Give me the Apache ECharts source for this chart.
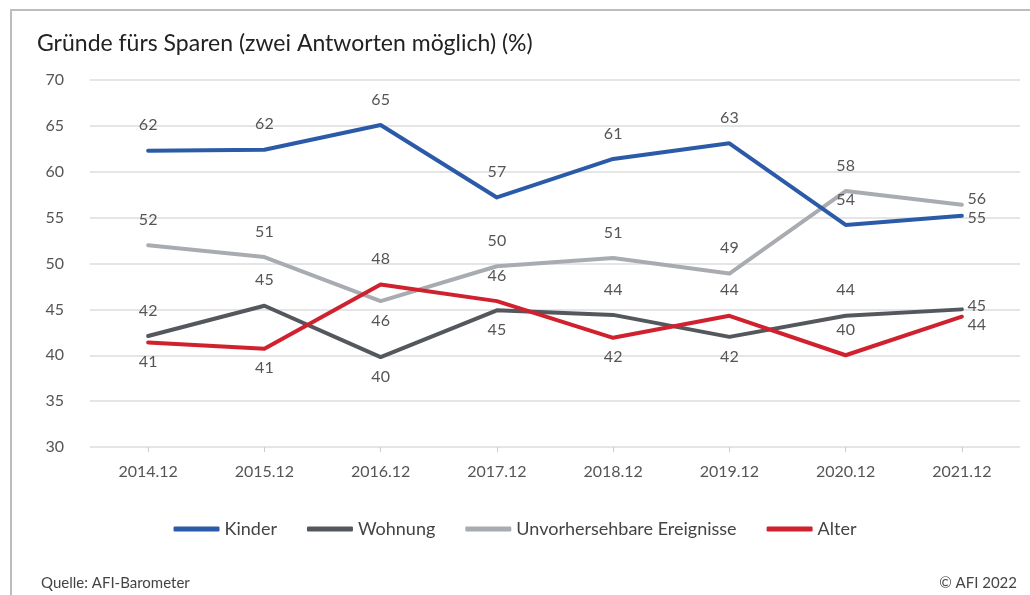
<!DOCTYPE html>
<html>
<head>
<meta charset="utf-8">
<script src="https://cdn.jsdelivr.net/npm/echarts@6/dist/echarts.min.js"></script>
<style>
html,body{margin:0;padding:0;background:#fff;}
#chart{width:1030px;height:595px;}
</style>
</head>
<body>
<div id="chart"></div>
<script>
const categories = ['2014.12','2015.12','2016.12','2017.12','2018.12','2019.12','2020.12','2021.12'];
const kinder = [62.3, 62.4, 65.1, 57.2, 61.4, 63.1, 54.2, 55.2];
const wohnung = [42.1, 45.4, 39.8, 44.9, 44.4, 42.0, 44.3, 45.0];
const unvorhersehbar = [52.0, 50.7, 45.9, 49.7, 50.6, 48.9, 57.9, 56.4];
const alter = [41.4, 40.7, 47.7, 45.9, 41.9, 44.3, 40.0, 44.2];
const yTicks = [30, 35, 40, 45, 50, 55, 60, 65, 70];

const FONT = 'Lato';
const chart = echarts.init(document.getElementById('chart'));

function buildData(values, positions, rightOffset) {
  return values.map((v, i) => {
    const p = positions[i];
    const lbl = { position: p };
    if (p === 'top') lbl.distance = 17;
    if (p === 'bottom') lbl.distance = 11;
    if (p === 'right') { lbl.distance = 5; lbl.offset = rightOffset; }
    return { value: v, label: lbl };
  });
}

function mkSeries(name, values, color, positions, rightOffset, z) {
  return {
    name: name,
    type: 'line',
    data: buildData(values, positions, rightOffset),
    symbol: 'circle',
    symbolSize: 1,
    showSymbol: true,
    z: z,
    lineStyle: { color: color, width: 4, cap: 'round', join: 'round' },
    itemStyle: { color: color },
    emphasis: { disabled: true },
    label: {
      show: true,
      color: '#555',
      fontSize: 16,
      fontFamily: FONT,
      formatter: p => Math.round(p.value)
    }
  };
}

const option = {
  backgroundColor: '#fff',
  animation: false,
  title: [
    { text: 'Gründe fürs Sparen (zwei Antworten möglich) (%)', left: 32, top: 27,
      textStyle: { fontFamily: FONT, fontSize: 23, fontWeight: 'normal', color: '#222' } },
    { text: 'Quelle: AFI-Barometer', left: 36, top: 571,
      textStyle: { fontFamily: FONT, fontSize: 15, fontWeight: 'normal', color: '#444' } },
    { text: '© AFI 2022', right: 8, top: 571,
      textStyle: { fontFamily: FONT, fontSize: 15, fontWeight: 'normal', color: '#444' } }
  ],
  graphic: [
    { type: 'rect', shape: { x: 11, y: 10, width: 1040, height: 620 },
      style: { fill: 'none', stroke: '#bdbdbd', lineWidth: 2 }, silent: true }
  ],
  legend: {
    bottom: 52,
    left: 'center',
    itemWidth: 46,
    itemHeight: 5,
    itemGap: 30,
    icon: 'roundRect',
    textStyle: { fontFamily: FONT, fontSize: 18, color: '#444' },
    data: ['Kinder', 'Wohnung', 'Unvorhersehbare Ereignisse', 'Alter']
  },
  grid: { left: 90, right: 10, top: 80, bottom: 148, containLabel: false },
  xAxis: {
    type: 'category',
    data: categories,
    boundaryGap: true,
    axisLine: { show: false },
    axisTick: { show: true, alignWithLabel: true, length: 5, lineStyle: { color: '#ccc' } },
    axisLabel: { fontFamily: FONT, fontSize: 16, color: '#555', margin: 17 }
  },
  yAxis: {
    type: 'value',
    min: 30,
    max: 70,
    interval: 5,
    axisLine: { show: false },
    axisTick: { show: false },
    axisLabel: { fontFamily: FONT, fontSize: 16, color: '#555', margin: 26,
      formatter: v => yTicks.includes(v) ? String(v) : '' },
    splitLine: { lineStyle: { color: '#dcdcdc', width: 1.5 } }
  },
  series: [
    mkSeries('Wohnung', wohnung, '#54585d',
      ['top','top','bottom','bottom','top','bottom','top','right'], [0,-4], 2),
    mkSeries('Unvorhersehbare Ereignisse', unvorhersehbar, '#a8acb1',
      ['top','top','bottom','top','top','top','top','right'], [0,-6], 3),
    mkSeries('Alter', alter, '#d0212e',
      ['bottom','bottom','top','top','bottom','top','top','right'], [0,8], 4),
    mkSeries('Kinder', kinder, '#2b5ba8',
      ['top','top','top','top','top','top','top','right'], [0,2], 5)
  ]
};
chart.setOption(option);
</script>
</body>
</html>
